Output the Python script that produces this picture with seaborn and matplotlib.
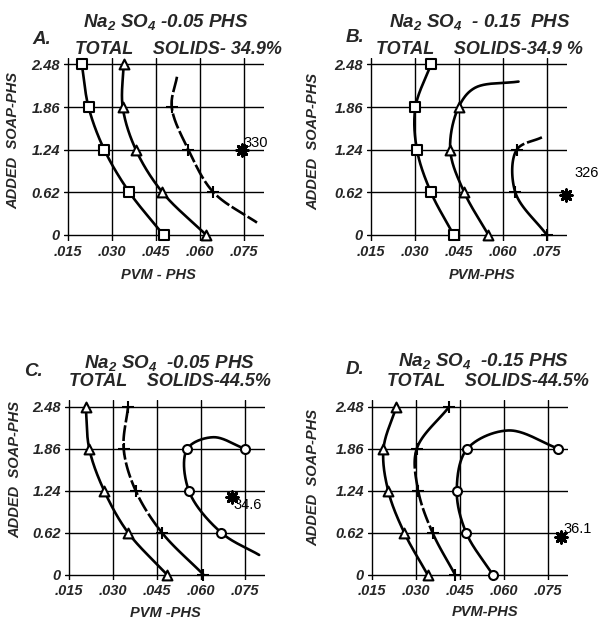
import numpy as np
import pandas as pd
import matplotlib
matplotlib.use("Agg")
import matplotlib.pyplot as plt
import seaborn as sns

# ---------------- data ----------------
soap_ticks = [0, 0.62, 1.24, 1.86, 2.48]
soap_labels = ["0", "0.62", "1.24", "1.86", "2.48"]
pvm_ticks = [0.015, 0.030, 0.045, 0.060, 0.075]
pvm_labels = [".015", ".030", ".045", ".060", ".075"]

panel_letters = ["A.", "B.", "C.", "D."]
title_line1 = ["Na$_2$ SO$_4$ -0.05 PHS", "Na$_2$ SO$_4$  - 0.15  PHS",
               "Na$_2$ SO$_4$  -0.05 PHS", "Na$_2$ SO$_4$  -0.15 PHS"]
title_line2 = ["TOTAL    SOLIDS- 34.9%", "TOTAL    SOLIDS-34.9 %",
               "TOTAL    SOLIDS-44.5%", "TOTAL    SOLIDS-44.5%"]
xlabels = ["PVM - PHS", "PVM-PHS", "PVM -PHS", "PVM-PHS"]
ylabel = "ADDED  SOAP-PHS"

# Panel A  (squares, triangles, plus)
a_sq_x = [0.0196, 0.0219, 0.0273, 0.0359, 0.0476]
a_sq_y = [2.48, 1.86, 1.24, 0.62, 0]
a_tri_x = [0.0339, 0.0336, 0.0381, 0.0472, 0.0622]
a_tri_y = [2.48, 1.86, 1.24, 0.62, 0]
a_plus_x = [0.0504, 0.0561, 0.0647]
a_plus_y = [1.86, 1.24, 0.62]
a_plus_curve_x = [0.0522, 0.0504, 0.0561, 0.0647, 0.0796]
a_plus_curve_y = [2.30, 1.86, 1.24, 0.62, 0.18]
a_star = (0.0744, 1.24, "330")

# Panel B
b_sq_x = [0.0354, 0.0301, 0.0306, 0.0354, 0.0432]
b_sq_y = [2.48, 1.86, 1.24, 0.62, 0]
b_tri_x = [0.0449, 0.0420, 0.0468, 0.0551]
b_tri_y = [1.86, 1.24, 0.62, 0]
b_tri_curve_x = [0.0654, 0.0505, 0.0449, 0.0420, 0.0468, 0.0551]
b_tri_curve_y = [2.23, 2.14, 1.86, 1.24, 0.62, 0]
b_plus_x = [0.0648, 0.0643, 0.0751]
b_plus_y = [1.24, 0.62, 0]
b_plus_curve_x = [0.0734, 0.0648, 0.0643, 0.0751]
b_plus_curve_y = [1.42, 1.24, 0.62, 0]
b_star = (0.0816, 0.58, "326")

# Panel C
c_tri_x = [0.0206, 0.0218, 0.0269, 0.0351, 0.0484]
c_tri_y = [2.48, 1.86, 1.24, 0.62, 0]
c_plus_x = [0.0351, 0.0336, 0.0377, 0.0467, 0.0609]
c_plus_y = [2.48, 1.86, 1.24, 0.62, 0]
c_circ_x = [0.0750, 0.0554, 0.0559, 0.0670]
c_circ_y = [1.86, 1.86, 1.24, 0.62]
c_circ_curve_x = [0.0750, 0.0643, 0.0554, 0.0559, 0.0670, 0.0800]
c_circ_curve_y = [1.86, 2.03, 1.86, 1.24, 0.62, 0.29]
c_star = (0.0706, 1.15, "34.6")

# Panel D
d_tri_x = [0.0232, 0.0188, 0.0204, 0.0259, 0.0339]
d_tri_y = [2.48, 1.86, 1.24, 0.62, 0]
d_plus_x = [0.0413, 0.0302, 0.0307, 0.0356, 0.0433]
d_plus_y = [2.48, 1.86, 1.24, 0.62, 0]
d_circ_x = [0.0787, 0.0475, 0.0439, 0.0471, 0.0562]
d_circ_y = [1.86, 1.86, 1.24, 0.62, 0]
d_circ_curve_x = [0.0787, 0.0616, 0.0475, 0.0439, 0.0471, 0.0562]
d_circ_curve_y = [1.86, 2.13, 1.86, 1.24, 0.62, 0]
d_star = (0.0796, 0.55, "36.1")

# ---------------- helpers ----------------
def catmull(xs, ys, n=40, alpha=0.5):
    # centripetal Catmull-Rom in grid-normalised space
    pts = np.column_stack([np.asarray(xs) / 0.015, np.asarray(ys) / 0.62])
    P = np.vstack([2 * pts[0] - pts[1], pts, 2 * pts[-1] - pts[-2]])
    out = []
    for i in range(1, len(P) - 2):
        p0, p1, p2, p3 = P[i - 1], P[i], P[i + 1], P[i + 2]
        t0 = 0.0
        t1 = t0 + max(np.linalg.norm(p1 - p0), 1e-6) ** alpha
        t2 = t1 + max(np.linalg.norm(p2 - p1), 1e-6) ** alpha
        t3 = t2 + max(np.linalg.norm(p3 - p2), 1e-6) ** alpha
        t = np.linspace(t1, t2, n)[:, None]
        A1 = (t1 - t) / (t1 - t0) * p0 + (t - t0) / (t1 - t0) * p1
        A2 = (t2 - t) / (t2 - t1) * p1 + (t - t1) / (t2 - t1) * p2
        A3 = (t3 - t) / (t3 - t2) * p2 + (t - t2) / (t3 - t2) * p3
        B1 = (t2 - t) / (t2 - t0) * A1 + (t - t0) / (t2 - t0) * A2
        B2 = (t3 - t) / (t3 - t1) * A2 + (t - t1) / (t3 - t1) * A3
        C = (t2 - t) / (t2 - t1) * B1 + (t - t1) / (t2 - t1) * B2
        out.append(C if i == 1 else C[1:])
    c = np.vstack(out)
    return c[:, 0] * 0.015, c[:, 1] * 0.62

sns.set_style("white")
plt.rcParams['font.family'] = ['Liberation Sans', 'DejaVu Sans']
plt.rcParams['mathtext.default'] = 'regular'

W, H = 601, 619
fig = plt.figure(figsize=(6.01, 6.19), dpi=100)

def add_ax(left, bottom, w, h):
    return fig.add_axes([left / W, 1 - bottom / H, w / W, h / H])

def ftext(x, y, s, **kw):
    fig.text(x / W, 1 - y / H, s, **kw)

LW = 1.9
DASH = (0, (6, 1.1))

def _seg(ax, cx, cy, dashed):
    df = pd.DataFrame({"x": cx, "y": cy})
    sns.lineplot(data=df, x="x", y="y", sort=False, estimator=None, ax=ax,
                 color="black", lw=LW, linestyle=DASH if dashed else "-",
                 zorder=3, clip_on=False)

def curve(ax, xs, ys, dashed=False, dash_band=None):
    cx, cy = catmull(xs, ys)
    if dash_band is None:
        _seg(ax, cx, cy, dashed)
        return
    lo, hi = dash_band
    inside = (cy >= lo) & (cy <= hi)
    start = 0
    for k in range(1, len(cy) + 1):
        if k == len(cy) or inside[k] != inside[start]:
            end = min(k + 1, len(cy))
            _seg(ax, cx[start:end], cy[start:end], bool(inside[start]))
            start = k

def marks(ax, xs, ys, marker, size=44):
    df = pd.DataFrame({"x": xs, "y": ys})
    if marker == "+":
        sns.scatterplot(data=df, x="x", y="y", marker="+", s=70, color="black",
                        linewidth=1.5, ax=ax, zorder=4, clip_on=False)
    else:
        sns.scatterplot(data=df, x="x", y="y", marker=marker, s=size,
                        facecolor="white", edgecolor="black", linewidth=1.5,
                        ax=ax, zorder=4, clip_on=False)

def star(ax, st, dx, dy):
    x, y, lab = st
    sns.scatterplot(x=[x], y=[y], marker=(8, 2, 0), s=65, color="black",
                    linewidth=2.2, ax=ax, zorder=5, clip_on=False)
    ax.annotate(lab, (x, y), xytext=(dx, dy), textcoords="offset points",
                fontsize=10.5, color="black", annotation_clip=False)

def setup(ax):
    ax.set_xlim(0.0135, 0.0820)
    ax.set_ylim(-0.08, 2.58)
    ax.set_xticks(pvm_ticks)
    ax.set_xticklabels(pvm_labels, fontsize=10.5, fontweight="bold", fontstyle="italic")
    ax.set_yticks(soap_ticks)
    ax.set_yticklabels(soap_labels, fontsize=10.5, fontweight="bold", fontstyle="italic")
    ax.grid(True, color="black", lw=1.0)
    ax.set_axisbelow(True)
    for s in ax.spines.values():
        s.set_visible(False)
    ax.tick_params(length=0, pad=3)
    ax.set_xlabel("")
    ax.set_ylabel("")

axA = add_ax(64, 240.5, 200, 183)
axB = add_ax(367, 240.5, 200, 183)
axC = add_ax(65, 580, 200, 180)
axD = add_ax(368, 580, 200, 180)

# Panel A
curve(axA, a_sq_x, a_sq_y); marks(axA, a_sq_x, a_sq_y, "s")
curve(axA, a_tri_x, a_tri_y); marks(axA, a_tri_x, a_tri_y, "^", 50)
curve(axA, a_plus_curve_x, a_plus_curve_y, dashed=True); marks(axA, a_plus_x, a_plus_y, "+")
star(axA, a_star, 1, 2)

# Panel B
curve(axB, b_sq_x, b_sq_y); marks(axB, b_sq_x, b_sq_y, "s")
curve(axB, b_tri_curve_x, b_tri_curve_y); marks(axB, b_tri_x, b_tri_y, "^", 50)
curve(axB, b_plus_curve_x, b_plus_curve_y, dash_band=(1.26, 3.0)); marks(axB, b_plus_x, b_plus_y, "+")
star(axB, b_star, 6, 13)

# Panel C
curve(axC, c_tri_x, c_tri_y); marks(axC, c_tri_x, c_tri_y, "^", 50)
curve(axC, c_plus_x, c_plus_y, dash_band=(0.7, 3.0)); marks(axC, c_plus_x, c_plus_y, "+")
curve(axC, c_circ_curve_x, c_circ_curve_y); marks(axC, c_circ_x, c_circ_y, "o", 42)
star(axC, c_star, 1, -9)

# Panel D
curve(axD, d_tri_x, d_tri_y); marks(axD, d_tri_x, d_tri_y, "^", 50)
curve(axD, d_plus_x, d_plus_y, dash_band=(0.7, 1.80)); marks(axD, d_plus_x, d_plus_y, "+")
curve(axD, d_circ_curve_x, d_circ_curve_y); marks(axD, d_circ_x, d_circ_y, "o", 42)
star(axD, d_star, 2, 3)

for ax in (axA, axB, axC, axD):
    setup(ax)

# Titles and labels (pixel positions)
tkw = dict(fontsize=13.5, fontweight="bold", fontstyle="italic", ha="center", va="center")
t2kw = dict(fontsize=13, fontweight="bold", fontstyle="italic", ha="center", va="center")
lkw = dict(fontsize=10.5, fontweight="bold", fontstyle="italic", ha="center", va="center")
title_pos = [(166, 22, 178, 49, 42, 40), (480, 22, 479, 49, 355, 38),
             (169, 363, 170, 382, 33, 371), (483, 361, 488, 382, 355, 370)]
xlabel_pos = [(158, 275), (482, 275), (165, 613), (485, 612)]
ylabel_pos = [(13, 140), (313, 142), (15, 470), (313, 477)]
for i in range(4):
    x1, y1, x2, y2, lx, ly = title_pos[i]
    ftext(x1, y1, title_line1[i], **tkw)
    ftext(x2, y2, title_line2[i], **t2kw)
    ftext(lx, ly, panel_letters[i], **tkw)
    ftext(xlabel_pos[i][0], xlabel_pos[i][1], xlabels[i], **lkw)
    ftext(ylabel_pos[i][0], ylabel_pos[i][1], ylabel, rotation=90, **lkw)

fig.savefig("out.png", dpi=100, facecolor="white")
